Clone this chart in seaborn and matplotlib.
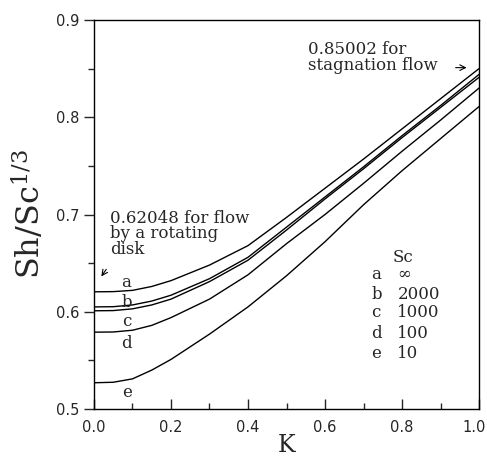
import numpy as np
import pandas as pd
import matplotlib
matplotlib.use("Agg")
import matplotlib.pyplot as plt
import matplotlib.transforms as mtransforms
import seaborn as sns

K = [0.0, 0.05, 0.1, 0.15, 0.2, 0.3, 0.4, 0.5, 0.6, 0.7, 0.8, 0.9, 1.0]
curve_a = [0.6205, 0.6207, 0.622, 0.626, 0.632, 0.648, 0.668, 0.697, 0.727, 0.757, 0.788, 0.819, 0.850]
curve_b = [0.605, 0.6052, 0.607, 0.611, 0.617, 0.634, 0.656, 0.687, 0.718, 0.749, 0.781, 0.812, 0.844]
curve_c = [0.601, 0.6012, 0.603, 0.607, 0.613, 0.631, 0.653, 0.684, 0.716, 0.747, 0.779, 0.810, 0.841]
curve_d = [0.579, 0.5792, 0.581, 0.586, 0.594, 0.613, 0.638, 0.670, 0.700, 0.732, 0.765, 0.797, 0.830]
curve_e = [0.527, 0.5275, 0.531, 0.540, 0.551, 0.577, 0.605, 0.637, 0.672, 0.710, 0.745, 0.778, 0.811]
curve_names = ["a", "b", "c", "d", "e"]
sc_values = ["\u221e", "2000", "1000", "100", "10"]
x_ticks = [0.0, 0.2, 0.4, 0.6, 0.8, 1.0]
y_ticks = [0.5, 0.6, 0.7, 0.8, 0.9]

rows = []
for name, vals in zip(curve_names, [curve_a, curve_b, curve_c, curve_d, curve_e]):
    for k, v in zip(K, vals):
        rows.append({"K": k, "val": v, "curve": name})
df = pd.DataFrame(rows)

sns.set_style("white")
plt.rcParams["mathtext.fontset"] = "dejavuserif"

fig = plt.figure(figsize=(4.87, 4.65), dpi=100)
ax = fig.add_axes([0.193, 0.1204, 0.7906, 0.8366])

sns.lineplot(data=df, x="K", y="val", units="curve", estimator=None,
             color="black", linewidth=1.0, ax=ax, legend=False)

ax.set_xlim(0, 1.0)
ax.set_ylim(0.5, 0.9)
ax.set_xticks(x_ticks)
ax.set_xticklabels([f"{t:.1f}" for t in x_ticks])
ax.set_yticks(y_ticks)
ax.set_yticklabels([f"{t:.1f}" for t in y_ticks])
ax.set_xticks([0.1, 0.3, 0.5, 0.7, 0.9], minor=True)
ax.set_yticks([0.55, 0.65, 0.75, 0.85], minor=True)
ax.tick_params(axis="x", which="major", direction="in", length=7, width=1,
               labelsize=10.5, pad=8, bottom=True)
ax.tick_params(axis="x", which="minor", direction="in", length=4, width=1, bottom=True)
ax.tick_params(axis="y", which="major", direction="out", length=7, width=1,
               labelsize=10.5, left=True)
ax.tick_params(axis="y", which="minor", direction="out", length=4, width=1, left=True)
for s in ax.spines.values():
    s.set_color("black")
    s.set_linewidth(1.0)

# keep the last x tick label inside the canvas
last = ax.get_xticklabels()[-1]
last.set_transform(last.get_transform() +
                   mtransforms.ScaledTranslation(-0.05, 0, fig.dpi_scale_trans))

ax.set_xlabel("K", family="DejaVu Serif", fontsize=17, labelpad=-1)
ax.set_ylabel("Sh/Sc$^{1/3}$", family="DejaVu Serif", fontsize=23, labelpad=6)

serif = "DejaVu Serif"
fs = 12
# curve letters
label_pos = [(0.070, 0.630), (0.072, 0.610), (0.072, 0.590), (0.070, 0.567), (0.074, 0.517)]
for name, (x, y) in zip(curve_names, label_pos):
    ax.text(x, y, name, family=serif, fontsize=fs, ha="left", va="center")

ax.text(0.042, 0.705, "0.62048 for flow\nby a rotating\ndisk", family=serif,
        fontsize=fs, ha="left", va="top", linespacing=0.9)
ax.annotate("", xy=(0.015, 0.634), xytext=(0.036, 0.646),
            arrowprops=dict(arrowstyle="->", color="black", lw=0.8))

ax.text(0.556, 0.878, "0.85002 for\nstagnation flow", family=serif,
        fontsize=fs, ha="left", va="top", linespacing=0.9)
ax.annotate("", xy=(0.975, 0.851), xytext=(0.932, 0.851),
            arrowprops=dict(arrowstyle="->", color="black", lw=0.8))

# legend-like table
ax.text(0.775, 0.656, "Sc", family=serif, fontsize=fs, ha="left", va="center")
leg_y = [0.638, 0.618, 0.599, 0.578, 0.557]
for name, val, y in zip(curve_names, sc_values, leg_y):
    ax.text(0.720, y, name, family=serif, fontsize=fs, ha="left", va="center")
    ax.text(0.788, y, val, family=serif, fontsize=fs, ha="left", va="center")

fig.savefig("out.png", dpi=100, facecolor="white")
